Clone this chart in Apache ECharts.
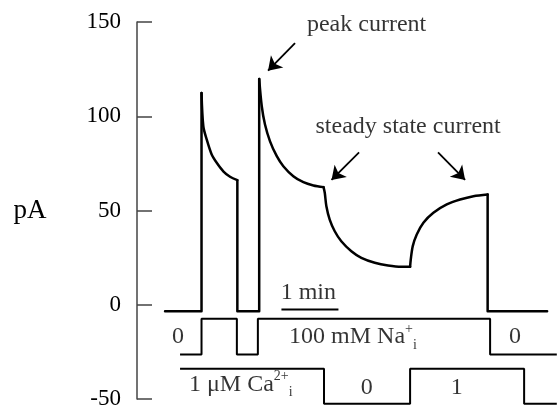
<!DOCTYPE html>
<html>
<head>
<meta charset="utf-8">
<script src="https://cdn.jsdelivr.net/npm/echarts@6/dist/echarts.min.js"></script>
<style>html,body{margin:0;padding:0;background:#fff}#c{width:557px;height:406px}</style>
</head>
<body>
<div id="c"></div>
<script>
// time in seconds, current in pA
var stepA = [[29.5,-3.4],[67.9,-3.4],[67.9,112.4]];
var decay1 = [[67.9,112.4],[69.8,94.7],[73.4,87.6],[78.6,79.7],[83.9,75.3],
  [90.8,70.8],[97.9,67.9],[105.6,66.1]];
var stepB = [[105.6,66.1],[105.6,-3.4],[128.6,-3.4],[128.6,119.8]];
var decay2 = [[128.6,119.8],[131.3,105.3],[134.7,95.6],[140,86.7],[147.1,78.8],
  [154,73.5],[164.5,68.2],[175.1,65],[185.6,63.3],[196.3,62.4]];
var fallPhase = [[196.3,62.4],[197.6,59.4],[199.3,52.3],[202.8,45.2],[208.1,39],
  [215,33.7],[225.6,28.4],[236.1,24.9],[250.2,22.3],[264.2,20.8],[278.2,20.1],[287.4,20.1]];
var risePhase = [[287.4,20.1],[288.1,24],[290.2,31.1],[294.4,37.3],[301.4,43.5],
  [311.9,48.8],[326,53.2],[340,55.8],[354,57.6],[369,58.5]];
var stepC = [[369,58.5],[369,-3.4],[431.6,-3.4]];
var naTrace = [
  [45.3,-26.4],[67.9,-26.4],[67.9,-7.4],[105.1,-7.4],[105.1,-26.4],[127.2,-26.4],
  [127.2,-7.4],[371.6,-7.4],[371.6,-26.4],[441.8,-26.4]
];
var caTrace = [
  [45.3,-33.9],[196.8,-33.9],[196.8,-52.5],[287.4,-52.5],[287.4,-33.9],
  [407.4,-33.9],[407.4,-52.5],[441.8,-52.5]
];
var scaleBar = [[152,-2.5],[212,-2.5]];
var yTicks = [-50, 0, 50, 100, 150];
var arrows = [
  [[166.3,138.8],[137.9,124.2]],
  [[233.7,80.8],[204.7,66.2]],
  [[316.8,80.8],[345.3,66.2]]
];
// [t, value, text, align]
var annotations = [
  [241.6,148.6,'peak current','center'],
  [285.3,94.5,'steady state current','center'],
  [180.3,6.2,'1 min','center'],
  [43.2,-16.8,'0','center'],
  [160,-17.2,'100 mM Na{sup|+}{sub|i}','left'],
  [397.9,-17,'0','center'],
  [54.7,-42.4,'1 \u03bcM Ca{sup|2+}{sub|i}','left'],
  [241.8,-44.2,'0','center'],
  [336.5,-44.2,'1','center']
];

var FONT = 'Liberation Serif, Times New Roman, serif';
var chart = echarts.init(document.getElementById('c'), null, {renderer:'canvas'});
var rich = {
  sup:{fontSize:14, fontFamily:FONT, color:'#000', verticalAlign:'top', lineHeight:30},
  sub:{fontSize:14, fontFamily:FONT, color:'#000', verticalAlign:'bottom', lineHeight:30}
};
function traceSeries(data, smooth){
  return {type:'line', data:data, symbol:'none', clip:false, smooth:smooth ? 0.3 : false,
    lineStyle:{color:'#000', width:2.5, cap:'round', join:'round'}};
}
var series = [
  traceSeries(stepA,false), traceSeries(decay1,true), traceSeries(stepB,false),
  traceSeries(decay2,true), traceSeries(fallPhase,true), traceSeries(risePhase,true),
  traceSeries(stepC,false),
  {type:'line', data:naTrace, symbol:'none', clip:false, lineStyle:{color:'#000', width:2}},
  {type:'line', data:caTrace, symbol:'none', clip:false, lineStyle:{color:'#000', width:2}},
  {type:'line', data:scaleBar, symbol:'none', clip:false, lineStyle:{color:'#000', width:2}},
  {type:'lines', coordinateSystem:'cartesian2d', symbol:['none','arrow'], symbolSize:13,
   lineStyle:{color:'#000', width:1.8, curveness:0, opacity:1},
   data:arrows.map(function(a){return {coords:a};})},
  {type:'scatter', symbolSize:0, clip:false, silent:true,
   data:annotations.map(function(a){
     return {value:[a[0],a[1]], label:{show:true, position:[0,0], formatter:a[2], align:a[3],
       verticalAlign:'middle', fontSize:24, fontFamily:FONT, color:'#000', rich:rich}};
   })}
];
chart.setOption({
  animation:false,
  backgroundColor:'#fff',
  grid:{left:137, right:0, top:22, bottom:7, containLabel:false, outerBoundsMode:'none'},
  xAxis:{type:'value', min:0, max:442, show:false},
  yAxis:{
    type:'value', min:yTicks[0], max:yTicks[yTicks.length-1], interval:50,
    name:'pA', nameLocation:'middle', nameGap:107, nameRotate:0,
    nameTextStyle:{fontSize:27, fontFamily:FONT, color:'#000', align:'center', verticalAlign:'middle'},
    axisLine:{show:true, lineStyle:{color:'#444', width:1.5}},
    axisTick:{show:true, inside:true, length:15, lineStyle:{color:'#444', width:1.5}},
    axisLabel:{fontSize:23, fontFamily:FONT, color:'#000', margin:16},
    splitLine:{show:false}
  },
  series:series
});
</script>
</body>
</html>
